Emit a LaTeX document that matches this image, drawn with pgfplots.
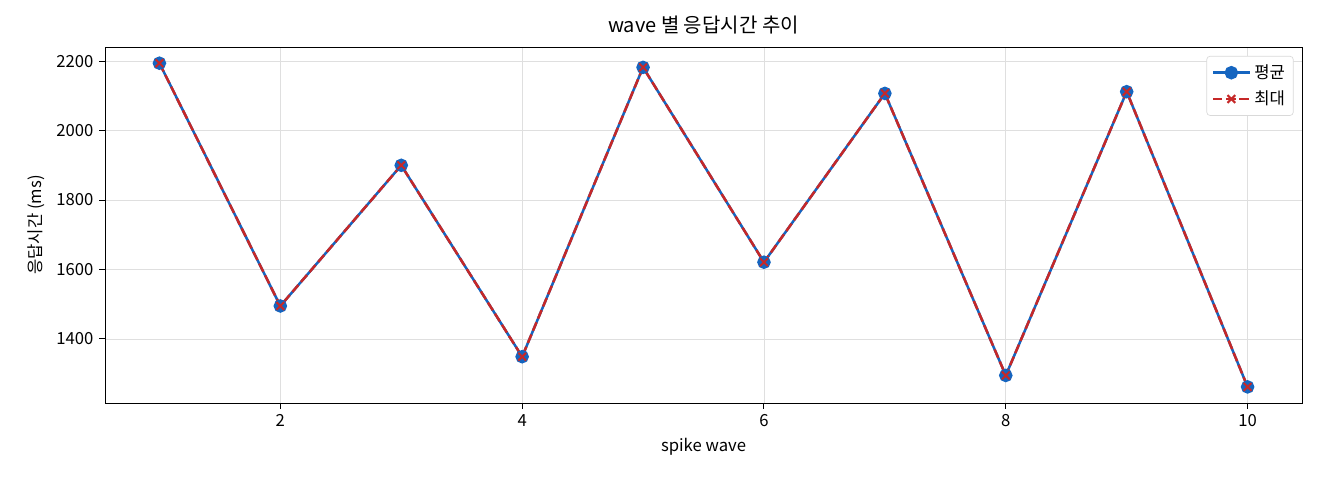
\documentclass[border=0pt]{standalone}
\usepackage{fontspec}
\setmainfont{Noto Sans CJK KR}
\usepackage{pgfplots}
\pgfplotsset{compat=1.18}
\usetikzlibrary{calc}
\definecolor{avgblue}{HTML}{1565C0}
\definecolor{maxred}{HTML}{C62828}
\begin{document}
\begin{tikzpicture}
\begin{axis}[
  scale only axis, width=718pt, height=213.6pt,
  xmin=0.55, xmax=10.45, ymin=1215.4, ymax=2240.6,
  xtick={2,4,6,8,10}, ytick={1400,1600,1800,2000,2200},
  tick align=outside, major tick length=3.5pt,
  tick style={black, line width=0.6pt}, axis line style={line width=0.6pt},
  xtick pos=bottom, ytick pos=left,
  grid=major, grid style={gray!25, line width=0.5pt},
  /pgf/number format/assume math mode=true,
  /pgf/number format/set thousands separator={},
  ticklabel style={font=\fontsize{10}{12}\selectfont},
  label style={font=\fontsize{10}{12}\selectfont},
  title style={font=\fontsize{12}{14}\selectfont, yshift=-2pt},
  title={wave 별 응답시간 추이},
  xlabel={spike wave}, ylabel={응답시간 (ms)},
  legend style={at={(0.993,0.975)}, anchor=north east, draw=gray!30, rounded corners=2pt,
    font=\fontsize{10}{12}\selectfont, row sep=2pt, inner sep=3pt},
  legend cell align=left,
  legend image code/.code={\draw[mark repeat=2,mark phase=2] plot coordinates {(0pt,0pt) (11pt,0pt) (22pt,0pt)};},
]
\addplot[avgblue, line width=1.5pt, mark=*, mark size=3.3pt, mark options={solid}]
  coordinates {(1,2194) (2,1495) (3,1900) (4,1349) (5,2182) (6,1621) (7,2107) (8,1295) (9,2112) (10,1262)};
\addlegendentry{평균}
\addplot[maxred, line width=1.5pt, dash pattern=on 5.5pt off 2.4pt, mark=x, mark size=3.3pt, mark options={solid, line width=1.2pt}]
  coordinates {(1,2194) (2,1495) (3,1900) (4,1349) (5,2182) (6,1621) (7,2107) (8,1295) (9,2112) (10,1262)};
\addlegendentry{최대}
\end{axis}
\pgfresetboundingbox
\path ($(current axis.south west)+(-63pt,-46.2pt)$) rectangle ($(current axis.north east)+(10.8pt,28.2pt)$);
\end{tikzpicture}
\end{document}
